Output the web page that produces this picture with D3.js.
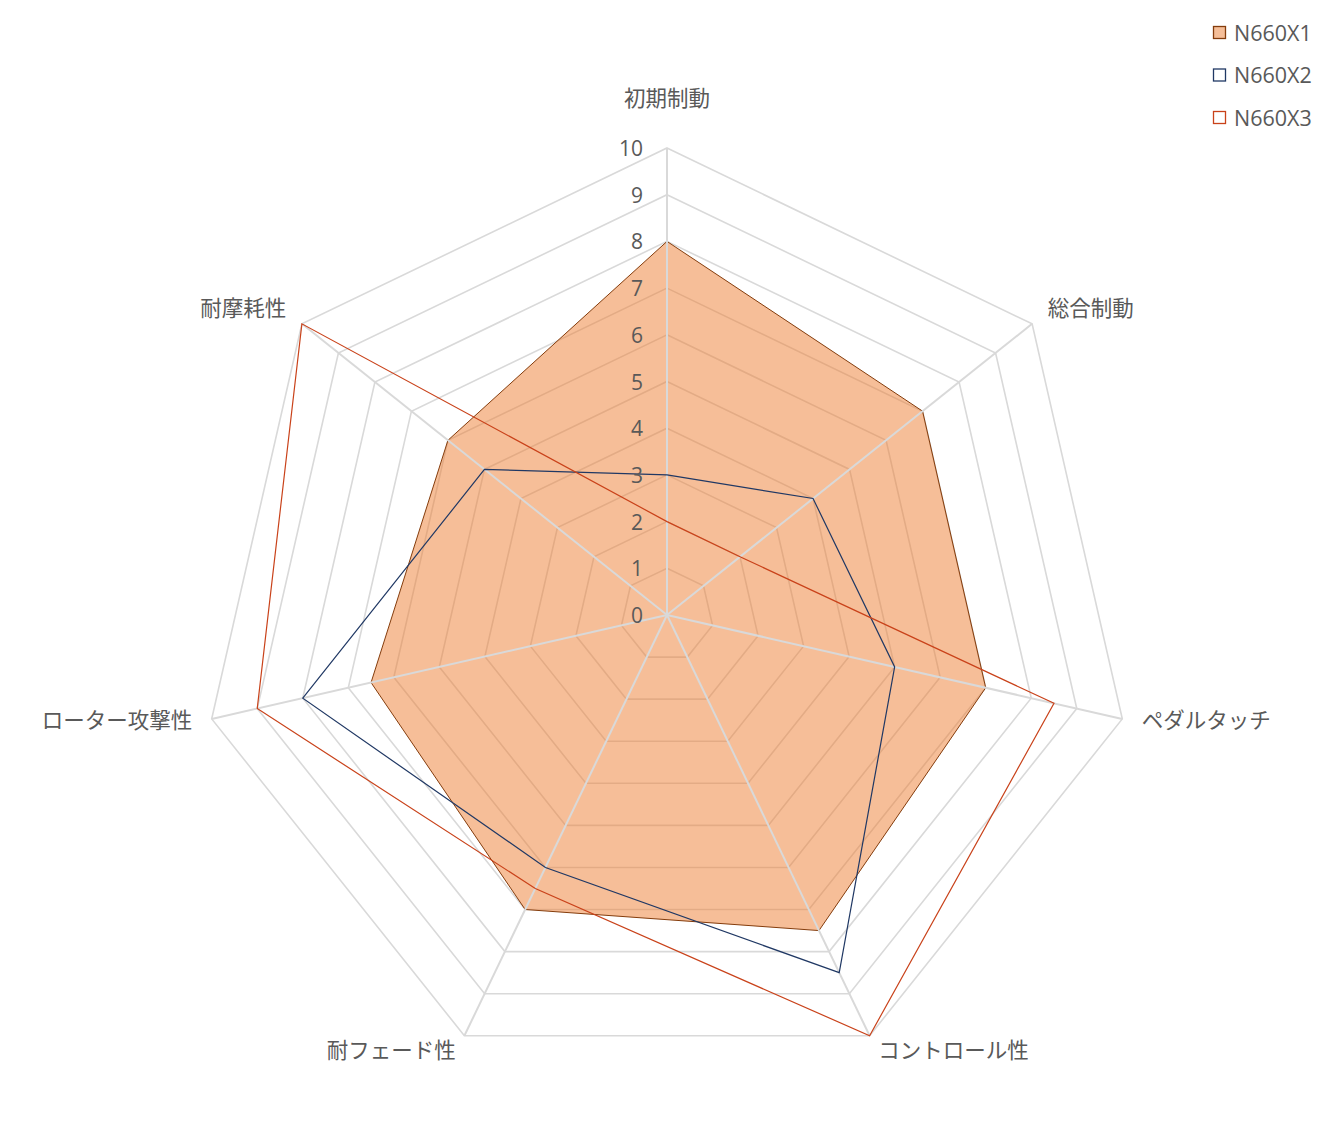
<!DOCTYPE html>
<html><head><meta charset="utf-8">
<script src="https://cdn.jsdelivr.net/npm/d3@7"></script>
<style>body{margin:0;background:#fff}svg{display:block}</style>
</head><body>
<svg id="chart" width="1334" height="1125"></svg>
<script>
const categories = ["初期制動","総合制動","ペダルタッチ","コントロール性","耐フェード性","ローター攻撃性","耐摩耗性"];
const seriesNames = ["N660X1","N660X2","N660X3"];
const valuesX1 = [8, 7, 7, 7.5, 7, 6.5, 6];
const valuesX2 = [3, 4, 5, 8.5, 6, 8, 5];
const valuesX3 = [2, 2, 8.5, 10, 6.5, 9, 10];
const tickValues = [0,1,2,3,4,5,6,7,8,9,10];

const svg = d3.select("#chart");
const cx = 667, cy = 615, R = 467;
const r = d3.scaleLinear().domain([0,10]).range([0,R]);
const n = categories.length;
const ang = i => i * 2 * Math.PI / n;
const pt = (i, v) => [cx + r(v) * Math.sin(ang(i)), cy - r(v) * Math.cos(ang(i))];
const grey = "#d9d9d9", textCol = "#595959";
const font = "'Noto Sans CJK JP','Noto Sans',sans-serif";
const numFont = "'Open Sans','Noto Sans',sans-serif";

const ringLine = d3.line();
// rings
svg.append("g").selectAll("path").data(tickValues.filter(t=>t>0)).join("path")
  .attr("d", t => ringLine(d3.range(n).map(i => pt(i,t))) + "Z")
  .attr("fill","none").attr("stroke",grey).attr("stroke-width",1.6);

const series = [
  {name:seriesNames[0], vals:valuesX1, fill:"#ED7D31", stroke:"#843C0C"},
  {name:seriesNames[1], vals:valuesX2, fill:"none", stroke:"#203864"},
  {name:seriesNames[2], vals:valuesX3, fill:"none", stroke:"#C9421A"}
];
// X1 filled area
svg.append("path")
  .attr("d", ringLine(series[0].vals.map((v,i)=>pt(i,v))) + "Z")
  .attr("fill", series[0].fill).attr("fill-opacity",0.5)
  .attr("stroke", series[0].stroke).attr("stroke-width",1);

// spokes
svg.append("g").selectAll("line").data(d3.range(n)).join("line")
  .attr("x1",cx).attr("y1",cy)
  .attr("x2",i=>pt(i,10)[0]).attr("y2",i=>pt(i,10)[1])
  .attr("stroke",grey).attr("stroke-width",2);

// line series
series.slice(1).forEach(s => {
  svg.append("path")
    .attr("d", ringLine(s.vals.map((v,i)=>pt(i,v))) + "Z")
    .attr("fill","none").attr("stroke",s.stroke).attr("stroke-width",1.2);
});

// tick labels
svg.append("g").selectAll("text").data(tickValues).join("text")
  .attr("x", cx - 24).attr("y", t => cy - r(t))
  .attr("text-anchor","end").attr("dominant-baseline","central")
  .attr("font-family", numFont).attr("font-size",21).attr("fill",textCol)
  .text(t=>t);

// category labels
svg.append("g").selectAll("text").data(categories).join("text")
  .each(function(c,i){
    const s = Math.sin(ang(i)), co = Math.cos(ang(i));
    const off = co > 0.99 ? 47 : 20;
    const [x,y] = [cx + (R+off)*s, cy - (R+off)*co - 5];
    d3.select(this).attr("x",x).attr("y",y)
      .attr("text-anchor", s > 0.1 ? "start" : (s < -0.1 ? "end" : "middle"));
  })
  .attr("dominant-baseline","central")
  .attr("font-family", font).attr("font-size",21.5).attr("fill",textCol)
  .text(c=>c);

// legend
const leg = svg.append("g");
series.forEach((s,k) => {
  const y = 33 + k*42.5;
  leg.append("rect").attr("x",1213.5).attr("y",y-6.5).attr("width",12).attr("height",12)
    .attr("fill", s.fill === "none" ? "#fff" : "#F5BE98").attr("stroke",s.stroke).attr("stroke-width",1.3);
  leg.append("text").attr("x",1234).attr("y",y-1).attr("dominant-baseline","central")
    .attr("font-family",numFont).attr("font-size",21.5).attr("fill",textCol).text(s.name);
});
</script>
</body></html>
